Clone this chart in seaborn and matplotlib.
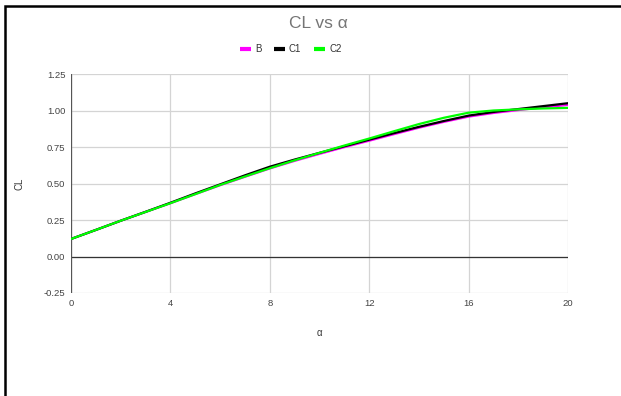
import matplotlib
matplotlib.use("Agg")
import matplotlib.pyplot as plt
import matplotlib.patches as mpatches
import seaborn as sns
import pandas as pd

alpha = list(range(0, 21))
cl_b = [0.12, 0.182, 0.245, 0.305, 0.365, 0.427, 0.488, 0.546, 0.603, 0.655, 0.703,
        0.749, 0.793, 0.838, 0.882, 0.922, 0.958, 0.983, 1.003, 1.022, 1.038]
cl_c1 = [0.12, 0.182, 0.245, 0.306, 0.368, 0.432, 0.494, 0.556, 0.615, 0.664, 0.71,
         0.755, 0.80, 0.845, 0.888, 0.928, 0.965, 0.99, 1.01, 1.03, 1.05]
cl_c2 = [0.12, 0.182, 0.245, 0.305, 0.365, 0.427, 0.49, 0.548, 0.605, 0.659, 0.71,
         0.76, 0.808, 0.858, 0.907, 0.95, 0.985, 1.0, 1.008, 1.014, 1.018]
series = ["B", "C1", "C2"]
colors = {"B": "#ff00ff", "C1": "#000000", "C2": "#00ff00"}
xticks = [0, 4, 8, 12, 16, 20]
yticks = [-0.25, 0.0, 0.25, 0.5, 0.75, 1.0, 1.25]

rows = []
for name, vals in zip(series, [cl_b, cl_c1, cl_c2]):
    for a, v in zip(alpha, vals):
        rows.append({"alpha": a, "CL": v, "series": name})
df = pd.DataFrame(rows)

sns.set_style("white")
plt.rcParams["font.family"] = ["Liberation Sans", "DejaVu Sans"]

fig = plt.figure(figsize=(6.21, 3.96), dpi=100)
ax = fig.add_axes([71/621, 1-293/396, (568-71)/621, (293-74)/396])

sns.lineplot(data=df, x="alpha", y="CL", hue="series", hue_order=series,
             palette=colors, linewidth=1.6, ax=ax, legend=False, zorder=3)

ax.set_xlim(0, 20)
ax.set_ylim(-0.25, 1.25)
ax.set_xticks(xticks)
ax.set_yticks(yticks)
ax.set_xticklabels([str(t) for t in xticks])
ax.set_yticklabels([f"{t:.2f}" for t in yticks])
ax.grid(True, color="#d4d4d4", linewidth=0.9)
for s in ax.spines.values():
    s.set_visible(False)
ax.axhline(0, color="#333333", linewidth=0.9, zorder=2)
ax.axvline(0, color="#555555", linewidth=0.9, zorder=2)
ax.tick_params(axis="both", length=0, labelsize=6.8, labelcolor="#444444", pad=4)
ax.set_xlabel("α", fontsize=7, color="#333333", labelpad=15)
ax.set_ylabel("CL", fontsize=7, color="#333333", labelpad=14)

fig.text(0.512, 1-23/396, "CL vs α", ha="center", va="center", fontsize=12.5, color="#757575")

handles = [plt.Line2D([], [], color=colors[s], linewidth=3.0, solid_capstyle="butt") for s in series]
leg = fig.legend(handles, series, loc="center", bbox_to_anchor=(0.468, 1-49/396), ncol=3,
                 frameon=False, fontsize=7, handlelength=1.1, handletextpad=0.45,
                 columnspacing=1.3)
for t in leg.get_texts():
    t.set_color("#333333")

rect = mpatches.Rectangle((5/621, -0.05), 1.1, 1.05 - 6/396, transform=fig.transFigure,
                          fill=False, edgecolor="black", linewidth=1.8)
fig.patches.append(rect)

fig.savefig("out.png", dpi=100, facecolor="white")
